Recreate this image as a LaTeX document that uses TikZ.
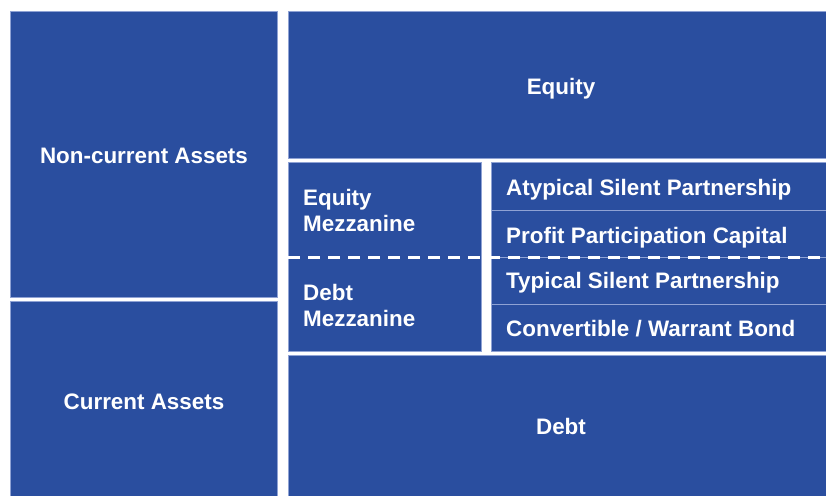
\documentclass[tikz,border=0pt]{standalone}
\usepackage{fontspec}
\setmainfont{Liberation Sans}
\definecolor{capblue}{HTML}{2A4E9F}
\definecolor{capedge}{HTML}{8FA2D4}

\begin{document}
\begin{tikzpicture}[x=1pt,y=-1pt,
    block/.style={fill=capblue,draw=capedge,line width=.7pt},
    lbl/.style={text=white,inner sep=0pt,font=\bfseries\fontsize{22.4}{25.5}\selectfont},
    sep/.style={white,line width=3pt,dash pattern=on 12pt off 8pt}]
            \useasboundingbox (0,0) rectangle (826,495);

            % assets side
            \path[block] (10,11) rectangle (277,297);
            \path[block] (10,301) rectangle (277,505);

            % equity, mezzanine and debt
            \path[block] (288,11) rectangle (836,158);
            \path[block] (288,162) rectangle (481,351);
            \foreach \t/\b in {162/210,210/257,257/304,304/351} {
            \path[block] (491,\t) rectangle (836,\b);}
            \path[block] (288,355) rectangle (836,505);

            % dashed split between equity and debt mezzanine
            \coordinate (mzl) at (288,257);
            \coordinate (mzr) at (826,257);
            \draw[sep] (mzl) -- (mzr);

            \node[lbl,anchor=base] (ncassets) at (144,163) {Non-current Assets};
            \node[lbl,anchor=base] (cassets) at (144,409) {Current Assets};
            \node[lbl,anchor=base] (equity) at (561,94) {Equity};
            \node[lbl,anchor=base] (debt) at (561,434) {Debt};

            % base of a two-line node sits on its last line
            \node[lbl,anchor=base west,align=left] (eqmezz) at (303,231) {Equity\\Mezzanine};
            \node[lbl,anchor=base west,align=left] (dbmezz) at (303,326) {Debt\\Mezzanine};

            \foreach \y/\n/\s in {195/asp/{Atypical Silent Partnership},243/ppc/{Profit Participation Capital},288/tsp/{Typical Silent Partnership},336/cwb/{Convertible / Warrant Bond}} {
            \node[lbl,anchor=base west] (\n) at (506,\y) {\s};}
\end{tikzpicture}
\end{document}
